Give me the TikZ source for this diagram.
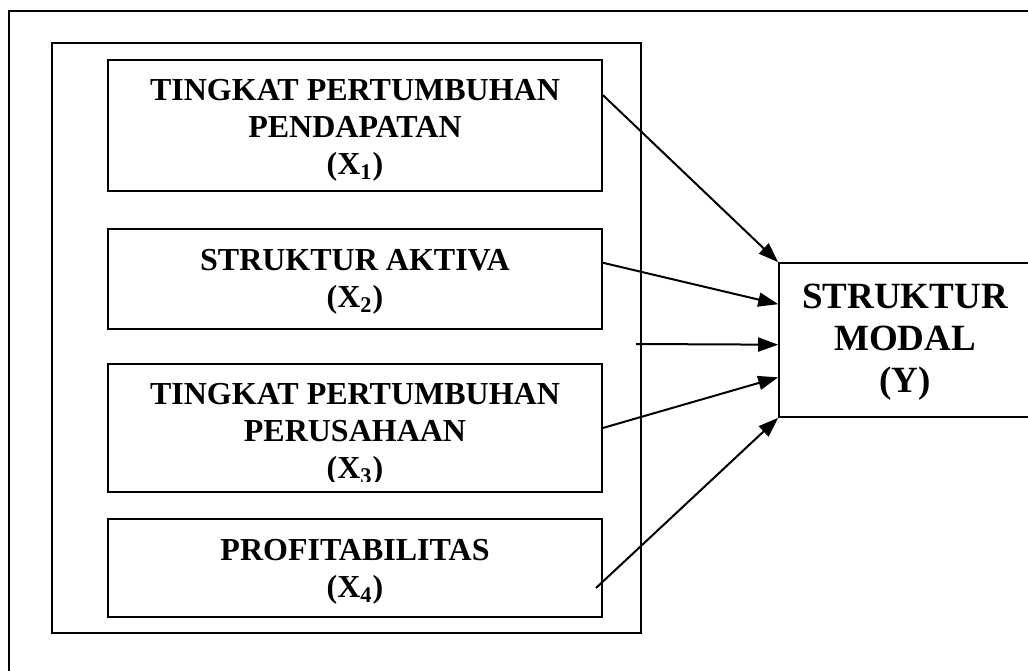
\documentclass[tikz,border=0pt]{standalone}
\usepackage{fontspec}
\setmainfont{Liberation Serif}
\usetikzlibrary{calc}
\usetikzlibrary{arrows.meta}

\begin{document}
\begin{tikzpicture}[x=0.5pt, y=-0.5pt,
    kotak/.style={draw, line width=0.8pt, minimum width=247pt, inner sep=0pt},
    teks/.style={align=center, font=\fontsize{16}{18.5}\selectfont\bfseries},
    panah/.style={line width=1pt, -{Triangle[length=10pt, width=7pt]}}]
    \useasboundingbox (0,0) rectangle (1028,670);
    \clip (0,0) rectangle (1028,670);
    \draw[line width=0.9pt] (9,11) rectangle (1040,690);
    \draw[line width=0.9pt] (52,43) rectangle (641,633);
    \node[kotak, minimum height=65.5pt] (x1) at (355,125.5) {};
    \node[teks] (x1teks) at (355,130) {TINGKAT PERTUMBUHAN\\PENDAPATAN\\(X\textsubscript{1})};
    \node[kotak, minimum height=50pt] (x2) at (355,279) {};
    \node[teks] (x2teks) at (355,282) {STRUKTUR AKTIVA\\(X\textsubscript{2})};
    \node[kotak, minimum height=64pt] (x3) at (355,428) {};
    \begin{scope}
        \clip (108,364) rectangle (602,481);
        \node[teks] (x3teks) at (355,434) {TINGKAT PERTUMBUHAN\\PERUSAHAAN\\(X\textsubscript{3})};
    \end{scope}
    \node[kotak, minimum height=49pt] (x4) at (355,568) {};
    \node[teks] (x4teks) at (355,572) {PROFITABILITAS\\(X\textsubscript{4})};
    \node[kotak, minimum width=126pt, minimum height=77pt] (y) at (905,340) {};
    \node[teks, font=\fontsize{18.5}{21}\selectfont\bfseries] (yteks) at (905,342) {STRUKTUR\\MODAL\\(Y)};
    \coordinate (a3) at (636,344);
    \coordinate (a5) at (596,588);
    \draw[panah] ($(x1.north east)!0.27!(x1.south east)$) -- (y.north west);
    \draw[panah] ($(x2.north east)!0.34!(x2.south east)$) -- ($(y.north west)!0.27!(y.south west)$);
    \draw[panah] (a3) -- ($(y.north west)!0.53!(y.south west)$);
    \draw[panah] (x3.east) -- ($(y.north west)!0.74!(y.south west)$);
    \draw[panah] (a5) -- (y.south west);
\end{tikzpicture}
\end{document}
